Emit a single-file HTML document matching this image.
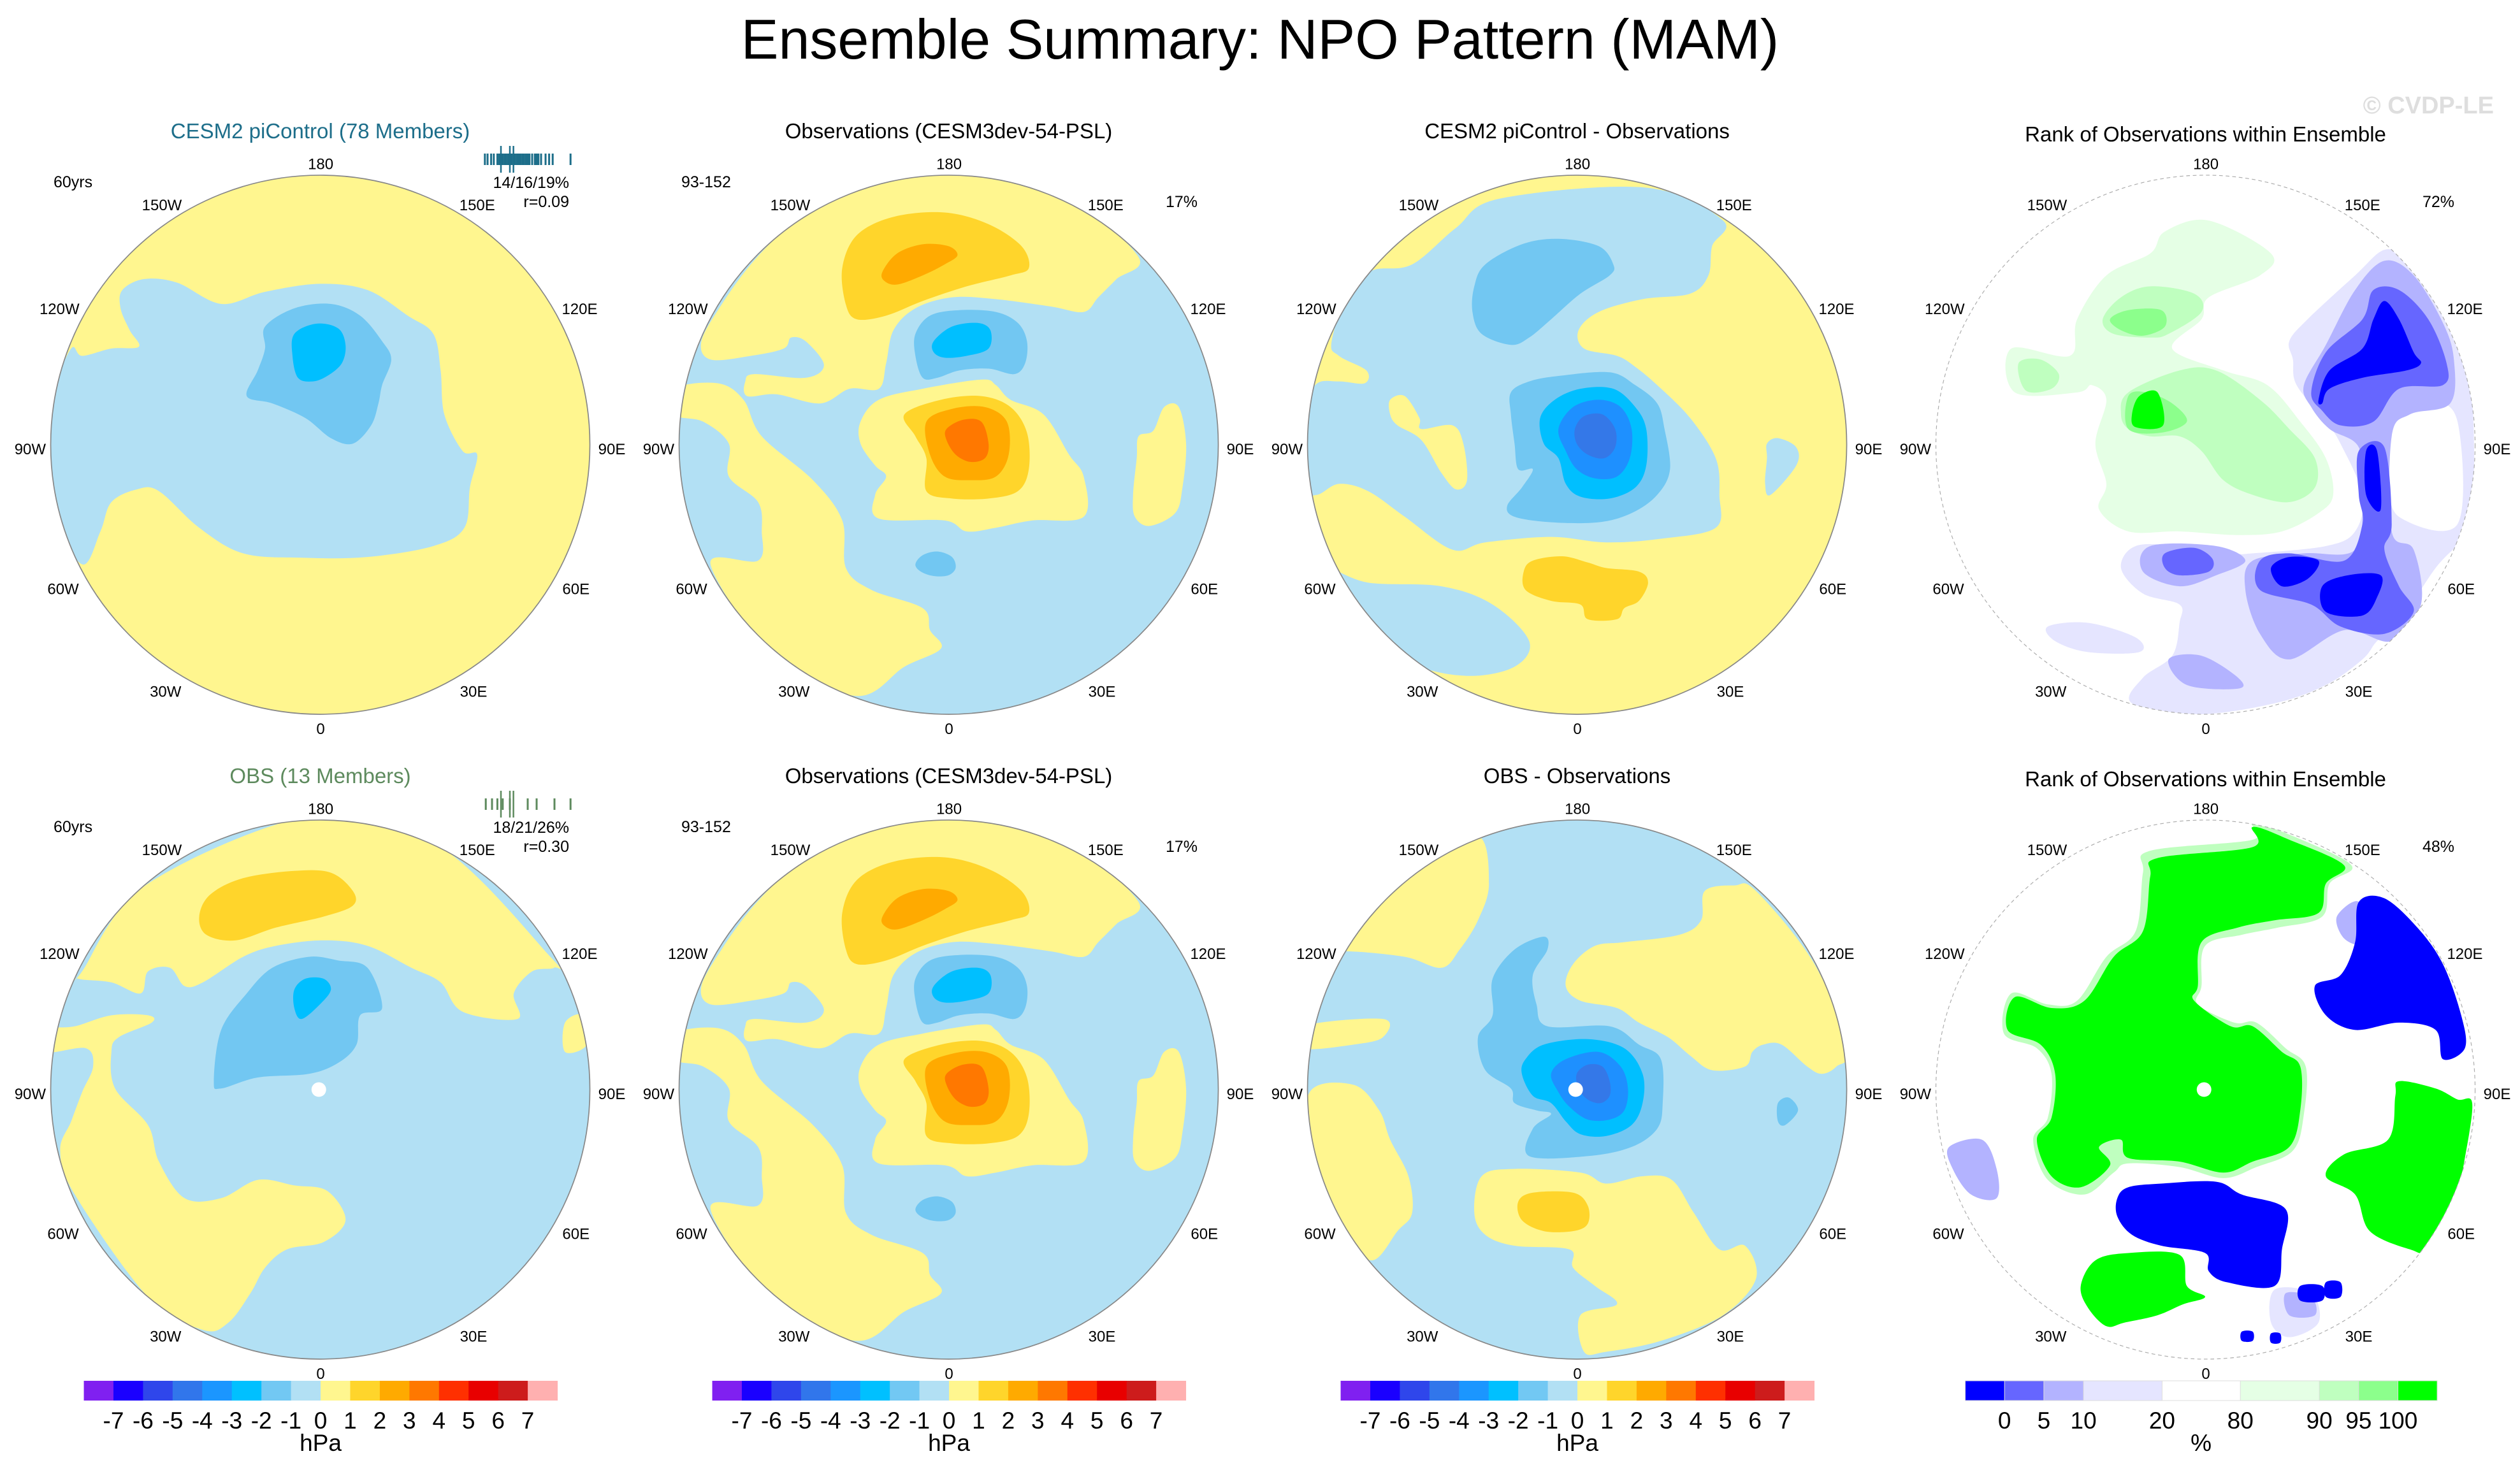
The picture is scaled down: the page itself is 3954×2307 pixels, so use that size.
<!DOCTYPE html>
<html><head><meta charset="utf-8">
<style>
html,body{margin:0;padding:0;background:#fff;}
body{width:3954px;height:2302px;overflow:hidden;font-family:"Liberation Sans",Arial,sans-serif;}
svg text{font-family:"Liberation Sans",Arial,sans-serif;}
</style></head>
<body>
<svg id="fig" xmlns="http://www.w3.org/2000/svg" width="3954" height="2302" viewBox="0 0 3954 2302">
<rect width="3954" height="2302" fill="#fff"/>
<text x="1977" y="92" font-size="88" text-anchor="middle" fill="#000">Ensemble Summary: NPO Pattern (MAM)</text>
<text x="3913" y="178" font-size="38" font-weight="bold" text-anchor="end" fill="#dedede">© CVDP-LE</text>
<g id="panels"></g>
</svg>
<script>
// colour scales
const hpaLevels = ["-7","-6","-5","-4","-3","-2","-1","0","1","2","3","4","5","6","7"];
const hpaColors = ["#8020f0","#1a00ff","#2f46eb","#3176eb","#1b96ff","#00c0ff","#72c8f3","#b2e0f4","#fff68f","#ffd52b","#ffaa00","#ff7800","#ff3000","#e80000","#cd1c1c","#ffb0b0"];
const rankLevels = ["0","5","10","20","80","90","95","100"];
const rankColors = ["#0000ff","#6666ff","#b3b3ff","#e5e5ff","#ffffff","#e5ffe5","#bfffbf","#8cff8c","#00ff00"];
const rankWidths = [107,107,108,214,213,215,107,107,106];

const Y0="#fff68f",Y1="#ffd52b",Y2="#ffaa00",Y3="#ff7800",B0="#b2e0f4",B1="#72c7f2",B2="#00bfff",B3="#1e90ff",B4="#3478e8";
const R0="#0000ff",R1="#6666ff",R2="#b3b3ff",R3="#e5e5ff",G1="#e5ffe5",G2="#bfffbf",G3="#8cff8c",G4="#00ff00";

const shapesP1 = [
 [B0,[230,340,290,310,380,320,500,378,620,345,770,323,900,340,1010,410,1080,460,1100,560,1110,680,1160,780,1200,790,1180,880,1165,990,1080,1040,900,1070,720,1072,560,1060,440,990,330,890,270,885,200,920,170,1000,120,1090,40,950,20,760,40,620,90,500,120,520,200,500,275,495,250,450,225,390]],
 [B1,[620,440,700,390,800,378,880,410,940,480,965,530,940,600,930,650,910,710,860,760,800,745,730,690,640,650,570,630,600,560,620,500]],
 [B2,[700,460,760,432,820,445,840,490,830,540,790,575,750,590,710,580,695,520]]
];
const shapesP2 = [
 [Y0,[320,180,450,90,770,10,1100,100,1290,250,1230,310,1180,360,1140,400,1050,385,900,365,780,360,680,390,620,450,600,540,580,610,500,610,420,650,300,625,220,630,215,590,240,570,380,580,430,545,380,480,340,470,320,500,230,520,120,530,95,480,150,380,230,270]],
 [Y0,[20,610,140,595,210,640,260,740,400,860,480,970,490,1100,560,1160,700,1210,720,1270,750,1320,650,1370,520,1450,300,1350,120,1090,250,1080,260,1000,250,920,170,850,170,760,100,700,20,680]],
 [Y0,[530,700,580,640,700,610,860,585,900,600,940,640,1030,680,1100,790,1140,850,1140,960,1000,970,900,990,820,1000,760,970,580,965,570,900,600,850,570,820,530,760]],
 [Y1,[650,680,750,640,860,630,940,660,985,730,990,830,960,890,880,910,780,910,710,890,710,800,680,740]],
 [Y2,[710,700,780,665,870,660,930,700,935,790,900,850,830,860,760,850,720,790]],
 [Y3,[765,720,810,695,860,700,880,760,870,800,830,810,790,790,765,750]],
 [Y1,[480,280,520,190,620,140,760,128,880,160,970,220,990,280,940,300,820,330,700,370,600,410,520,420,490,380]],
 [Y2,[590,290,630,240,700,215,770,220,795,245,760,270,700,300,630,325,595,315]],
 [B1,[680,460,720,410,800,395,900,400,960,430,985,480,980,540,950,570,880,555,800,560,740,580,700,580,680,520]],
 [B2,[730,480,780,440,850,430,885,450,880,500,820,520,760,525,730,510]],
 [B1,[680,1090,700,1065,740,1055,780,1070,790,1100,770,1120,730,1122,695,1110]],
 [Y0,[1290,740,1330,725,1360,660,1400,660,1420,760,1410,880,1390,950,1320,985,1280,960,1275,900,1285,800]]
];
const shapesP3 = [
 [B0,[100,480,150,330,215,285,320,270,440,170,560,90,960,60,1170,150,1140,220,1130,300,1080,350,950,365,830,400,775,450,790,500,880,520,930,550,990,600,1080,690,1150,800,1160,900,1150,990,1000,1020,850,1030,700,1015,520,1030,430,1050,300,960,200,890,120,870,60,900,20,880,20,700,55,600,120,590,190,595,195,560,120,520]],
 [B0,[90,1100,200,1140,400,1150,540,1200,640,1300,600,1370,470,1395,320,1360,180,1250,100,1150]],
 [Y0,[260,640,300,630,340,690,345,720,430,710,460,760,470,860,440,885,400,840,345,750,280,710,260,680]],
 [B0,[1290,760,1320,745,1370,770,1370,820,1300,900,1285,870,1290,800]],
 [B1,[490,330,520,270,620,215,720,200,830,220,870,270,860,300,780,350,700,420,640,470,590,490,510,460,485,400]],
 [B1,[590,620,640,590,720,575,860,565,930,600,990,650,1010,720,1025,830,990,900,920,950,830,975,700,975,600,960,580,930,620,880,650,830,610,830,600,760,590,680]],
 [B2,[670,690,710,640,780,610,870,610,930,660,960,720,960,820,930,880,860,910,780,905,740,870,720,800,680,760]],
 [B3,[720,720,760,660,830,640,890,660,920,720,915,800,880,850,820,855,770,830,740,780]],
 [B4,[765,720,790,685,840,680,875,720,875,770,845,800,800,790,770,760]],
 [Y1,[625,1110,650,1080,730,1068,800,1085,850,1100,940,1110,965,1140,940,1190,900,1210,880,1240,800,1240,780,1200,700,1190,630,1160]]
];
const shapesP4 = [
 [G1,[420,420,500,300,620,240,660,180,780,150,950,240,920,300,780,360,760,420,680,500,820,560,940,600,1030,700,1100,800,1120,900,1080,950,980,1000,860,1010,700,1000,560,1000,480,940,500,870,470,760,500,640,460,600,420,620,250,620,240,500,400,520]],
 [G2,[490,420,540,360,620,330,740,350,760,400,670,460,620,470,520,460]],
 [G2,[560,620,700,560,800,560,920,640,1000,720,1070,800,1070,880,1000,920,900,900,820,860,760,780,700,740,620,740,560,720,540,680]],
 [G2,[260,540,320,530,370,570,350,610,280,615]],
 [G3,[510,420,560,395,650,395,660,440,600,465,540,450]],
 [G3,[560,630,610,620,680,650,720,700,650,730,560,720]],
 [G4,[590,630,640,620,655,710,580,715,570,680]],
 [R3,[1000,480,1050,420,1180,300,1260,230,1320,260,1420,380,1470,500,1500,640,1505,900,1490,1000,1400,1100,1300,1250,1240,1300,1200,1350,1100,1420,960,1470,750,1500,570,1470,600,1400,680,1340,700,1250,700,1200,600,1170,540,1100,580,1040,700,1040,850,1060,900,1060,1100,1040,1180,1000,1200,900,1140,760,1100,700,1020,600,1010,530]],
 [R3,[340,1260,450,1250,580,1290,590,1330,450,1330,360,1300]],
 ["#ffffff",[1260,640,1380,640,1460,700,1460,980,1300,960,1270,850,1260,760]],
 [R2,[1040,600,1100,490,1180,340,1260,260,1340,300,1420,430,1450,530,1440,650,1330,680,1280,740,1280,1000,1340,1050,1360,1200,1280,1300,1150,1270,1000,1350,920,1280,880,1160,900,1080,1040,1060,1180,1050,1200,900,1190,770,1110,720,1060,660]],
 [R2,[620,1040,800,1040,880,1080,800,1120,700,1150,600,1110]],
 [R2,[670,1350,760,1340,860,1400,860,1430,720,1420]],
 [R1,[1060,620,1100,510,1200,420,1230,340,1300,340,1380,420,1430,540,1420,600,1300,610,1230,700,1140,710,1090,670]],
 [R1,[1190,780,1260,770,1280,980,1260,1050,1300,1150,1340,1220,1260,1280,1140,1260,1060,1200,920,1160,920,1080,1000,1060,1150,1080,1200,980,1190,900]],
 [R1,[660,1060,740,1045,790,1075,780,1110,700,1120,660,1100]],
 [R0,[1080,640,1110,560,1200,500,1230,420,1260,370,1300,420,1340,510,1360,540,1320,560,1200,580,1110,610,1090,650]],
 [R0,[950,1100,1000,1070,1080,1080,1050,1130,980,1150]],
 [R0,[1090,1150,1160,1120,1250,1120,1240,1180,1200,1230,1100,1220]],
 [R0,[1210,780,1240,780,1250,940,1210,900]]
];
const shapesP5 = [
 [Y0,[120,440,300,200,770,10,1100,100,1400,400,1410,430,1350,440,1300,500,1310,570,1160,550,1100,470,1020,430,900,370,780,355,650,370,560,400,450,470,400,480,360,430,300,440,280,500,200,470,110,460]],
 [Y0,[20,600,100,590,200,560,300,560,310,580,220,620,200,660,210,760,300,860,330,960,400,1060,500,1060,600,1010,700,1025,790,1040,840,1120,780,1180,680,1200,620,1250,580,1320,520,1400,450,1420,300,1330,100,1050,60,930,90,850,120,770,150,700,130,650,20,660]],
 [Y0,[1440,580,1490,560,1500,640,1440,660]],
 [Y1,[440,290,470,230,560,185,700,165,800,170,860,220,860,260,780,290,650,320,540,355,460,340]],
 [B1,[480,740,500,600,570,500,640,430,740,400,820,410,900,430,940,540,880,560,870,640,820,690,740,720,600,730,500,760]],
 [B2,[700,490,730,460,780,460,800,490,770,530,720,570,700,540]]
];
const shapesP7 = [
 [Y0,[100,400,200,260,350,150,500,70,530,200,500,300,450,380,400,430,300,400,140,385]],
 [Y0,[740,480,760,420,820,370,900,360,1050,340,1110,300,1120,220,1200,205,1260,220,1420,420,1510,650,1480,700,1440,720,1400,700,1330,640,1280,640,1250,660,1230,700,1140,710,1080,670,1020,620,940,580,880,540,780,520]],
 [Y0,[20,590,240,570,240,620,160,640,20,650]],
 [Y0,[40,770,160,750,230,820,260,900,310,1000,320,1100,280,1150,210,1230,130,1150,40,950]],
 [Y0,[490,1100,510,1000,600,980,780,990,850,1020,950,1000,1030,1010,1090,1100,1160,1200,1230,1190,1260,1280,1170,1380,1000,1450,850,1480,790,1480,780,1380,880,1350,820,1300,760,1250,750,1200,600,1190,520,1160]],
 [Y1,[610,1070,650,1045,760,1045,800,1080,800,1130,760,1150,680,1150,620,1120]],
 [B1,[500,620,540,560,540,460,600,380,680,345,690,380,650,450,660,530,690,590,860,590,940,640,1000,680,1005,800,990,870,920,920,800,945,640,945,650,870,700,830,660,820,600,800,590,760,520,710]],
 [B2,[630,680,680,640,800,625,900,650,950,720,950,800,920,860,850,890,780,885,740,850,700,800,650,780,620,720]],
 [B3,[700,720,740,680,830,660,890,700,910,760,900,820,860,845,800,845,750,810,720,770]],
 [B4,[770,720,800,695,840,700,860,740,860,780,835,800,800,790,775,760]],
 [B1,[1320,800,1350,785,1375,820,1340,860,1320,850]]
];
const shapesP8 = [
 [G2,[420,520,500,400,580,330,600,170,620,110,900,80,900,35,1010,70,1170,150,1110,200,1090,290,970,320,870,340,770,370,760,480,750,530,850,580,910,580,990,650,1045,700,1040,830,1010,930,910,975,820,1005,700,975,560,965,520,990,440,1050,340,1010,300,900,340,840,350,720,310,650,220,610,240,500,340,530]],
 [G4,[440,520,520,400,600,330,620,180,640,130,900,100,900,45,1000,80,1150,150,1100,200,1080,280,960,300,860,320,760,360,750,480,740,520,840,590,900,590,980,660,1030,700,1030,820,1000,920,900,960,820,990,700,960,560,950,540,900,480,920,510,970,430,1030,350,1000,310,900,350,840,360,720,320,640,230,600,250,510,350,540]],
 [G4,[1100,1000,1150,940,1270,900,1290,780,1300,740,1400,760,1460,790,1500,800,1480,950,1450,1080,1380,1200,1330,1200,1220,1150,1180,1050]],
 [G4,[430,1300,470,1230,560,1210,700,1215,720,1300,770,1330,710,1350,640,1380,550,1400,500,1410,450,1360]],
 [R2,[1130,290,1190,250,1200,360,1150,350]],
 [R0,[1070,480,1140,450,1180,360,1190,250,1260,240,1350,320,1420,420,1470,560,1480,650,1420,680,1400,600,1300,580,1180,600,1100,560]],
 [R2,[70,920,160,900,200,980,200,1060,130,1050,80,980]],
 [R3,[960,1310,1060,1320,1080,1400,1000,1440,950,1400]],
 [R2,[990,1320,1060,1330,1070,1380,1000,1380]],
 [R0,[530,1060,560,1030,650,1020,800,1015,870,1050,990,1090,980,1200,960,1300,830,1290,780,1260,770,1210,650,1190,570,1160,530,1110]],
 [R0,[1030,1300,1090,1300,1090,1340,1030,1340]],
 [R0,[1100,1290,1140,1290,1140,1330,1100,1330]],
 [R0,[870,1425,900,1425,900,1450,870,1450]],
 [R0,[950,1430,975,1430,975,1455,950,1455]]
];

const colX = [60,1046,2032,3018];
const rowY = [260,1272];
const SC = 900/1568;

const panelDefs = [
 {c:0,r:0,bg:Y0,shapes:shapesP1,kind:"hpa",title:"CESM2 piControl (78 Members)",tcolor:"#1d6e8a",tl:"60yrs",tr1:"14/16/19%",tr2:"r=0.09",bars:"#1d6e8a",pole:false},
 {c:1,r:0,bg:B0,shapes:shapesP2,kind:"hpa",title:"Observations (CESM3dev-54-PSL)",tcolor:"#000",tl:"93-152",tr2:"17%",pole:false},
 {c:2,r:0,bg:Y0,shapes:shapesP3,kind:"hpa",title:"CESM2 piControl - Observations",tcolor:"#000",pole:false},
 {c:3,r:0,bg:"#ffffff",shapes:shapesP4,kind:"rank",title:"Rank of Observations within Ensemble",tcolor:"#000",tr2:"72%",pole:false},
 {c:0,r:1,bg:B0,shapes:shapesP5,kind:"hpa",title:"OBS (13 Members)",tcolor:"#5d8a5d",tl:"60yrs",tr1:"18/21/26%",tr2:"r=0.30",bars:"#5d8a5d",pole:true},
 {c:1,r:1,bg:B0,shapes:shapesP2,kind:"hpa",title:"Observations (CESM3dev-54-PSL)",tcolor:"#000",tl:"93-152",tr2:"17%",pole:false},
 {c:2,r:1,bg:B0,shapes:shapesP7,kind:"hpa",title:"OBS - Observations",tcolor:"#000",pole:true},
 {c:3,r:1,bg:"#ffffff",shapes:shapesP8,kind:"rank",title:"Rank of Observations within Ensemble",tcolor:"#000",tr2:"48%",pole:true}
];
const lonLabels = [["180",772,-4],["150W",338,108],["150E",1200,108],["120W",58,392],["120E",1480,392],["90W",-22,775],["90E",1568,775],["60W",68,1158],["60E",1470,1158],["30W",348,1438],["30E",1190,1438],["0",772,1540]];
const memberBarsTop = [0.02,0.05,0.09,0.12,0.16,0.18,0.2,0.22,0.24,0.26,0.28,0.3,0.32,0.34,0.36,0.38,0.4,0.42,0.44,0.46,0.48,0.5,0.52,0.55,0.58,0.6,0.62,0.65,0.7,0.74,0.78,0.98];
const memberBarsBot = [0.03,0.1,0.16,0.22,0.3,0.5,0.6,0.8,0.98];

const NS="http://www.w3.org/2000/svg";
function mk(tag,attrs,parent){const e=document.createElementNS(NS,tag);for(const k in attrs)e.setAttribute(k,attrs[k]);if(parent)parent.appendChild(e);return e;}
function smooth(p){
  const pts=[];for(let i=0;i<p.length;i+=2)pts.push([p[i],p[i+1]]);
  const n=pts.length;let d="M"+pts[0][0]+","+pts[0][1];
  for(let i=0;i<n;i++){
    const p0=pts[(i-1+n)%n],p1=pts[i],p2=pts[(i+1)%n],p3=pts[(i+2)%n];
    const c1=[p1[0]+(p2[0]-p0[0])/6,p1[1]+(p2[1]-p0[1])/6];
    const c2=[p2[0]-(p3[0]-p1[0])/6,p2[1]-(p3[1]-p1[1])/6];
    d+="C"+c1[0].toFixed(1)+","+c1[1].toFixed(1)+" "+c2[0].toFixed(1)+","+c2[1].toFixed(1)+" "+p2[0]+","+p2[1];
  }
  return d+"Z";
}
const root=document.getElementById("panels");
panelDefs.forEach((pd,idx)=>{
  const ox=colX[pd.c], oy=rowY[pd.r];
  const cx=ox+771*SC, cy=oy+763*SC;
  const g=mk("g",{},root);
  
  
  const clipId="clip"+idx;
  const defs=mk("defs",{},g);
  const cp=mk("clipPath",{id:clipId},defs);
  mk("circle",{cx:771,cy:763,r:737},cp);
  const map=mk("g",{transform:"translate("+ox+","+oy+") scale("+SC+")"},g);
  const inner=mk("g",{"clip-path":"url(#"+clipId+")"},map);
  const bg=mk("circle",{cx:771,cy:763,r:737,fill:pd.bg},inner);
  
  
  pd.shapes.forEach(s=>{
    const path=mk("path",{d:smooth(s[1]),fill:s[0]},inner);
    
    
  });
  if(pd.pole){
    const pole=mk("circle",{cx:767,cy:763,r:20,fill:"#fff"},inner);
    
    
  }
  const outline=mk("circle",{cx:771,cy:763,r:737,fill:"none",stroke:pd.kind==="rank"?"#aaa":"#888","stroke-width":pd.kind==="rank"?2:3,"stroke-dasharray":pd.kind==="rank"?"10,8":"none"},map);
  
  
  lonLabels.forEach(l=>{
    const t=mk("text",{x:ox+l[1]*SC,y:oy+l[2]*SC+8,"font-size":24,"text-anchor":"middle",fill:"#000"},g);
    t.textContent=l[0];
    
    
  });
  const ty=oy-43+(pd.kind==="rank"?5:0);
  const title=mk("text",{x:cx,y:ty,"font-size":33,"text-anchor":"middle",fill:pd.tcolor},g);
  title.textContent=pd.title;
  
  
  if(pd.tl){
    const t=mk("text",{x:ox+(pd.tl==="60yrs"?24:23),y:oy+34,"font-size":25,fill:"#000"},g);
    t.textContent=pd.tl;
    
    
  }
  if(pd.tr1){
    const t=mk("text",{x:ox+833,y:oy+35,"font-size":25,"text-anchor":"end",fill:"#000"},g);
    t.textContent=pd.tr1;
    
    
  }
  if(pd.tr2){
    const t=mk("text",{x:ox+833,y:oy+65,"font-size":25,"text-anchor":"end",fill:"#000"},g);
    t.textContent=pd.tr2;
    
    
  }
  if(pd.bars){
    const arr=pd.r===0?memberBarsTop:memberBarsBot;
    const bx0=ox+698,bw=140,by=oy-19;
    arr.forEach((v,i)=>{
      const ln=mk("line",{x1:bx0+v*bw,x2:bx0+v*bw,y1:by,y2:by+18,stroke:pd.bars,"stroke-width":3},g);
      
      
    });
    [0.2,0.3,0.34].forEach(v=>{
      const ln=mk("line",{x1:bx0+v*bw,x2:bx0+v*bw,y1:by-12,y2:by+30,stroke:pd.bars,"stroke-width":2.5},g);
      
      
    });
  }
  if(pd.r===1){
    const cb=mk("g",{},g);
    
    
    const y0=2167,h=31;
    if(pd.kind==="hpa"){
      const x0=cx-371,bw=743/16;
      hpaColors.forEach((col,i)=>{
        const r=mk("rect",{x:x0+i*bw,y:y0,width:bw+0.5,height:h,fill:col},cb);
        
        
      });
      hpaLevels.forEach((lab,i)=>{
        const t=mk("text",{x:x0+(i+1)*bw,y:2242,"font-size":37,"text-anchor":"middle",fill:"#000"},cb);
        t.textContent=lab;
        
        
      });
      const u=mk("text",{x:x0+8*bw,y:2277,"font-size":37,"text-anchor":"middle",fill:"#000"},cb);
      u.textContent="hPa";
      
      
    } else {
      let x=cx-377;const bounds=[];
      rankColors.forEach((col,i)=>{
        const r=mk("rect",{x:x,y:y0,width:rankWidths[i]*740/1284+0.5,height:h,fill:col,stroke:"#ddd","stroke-width":1},cb);
        
        
        x+=rankWidths[i]*740/1284;bounds.push(x);
      });
      rankLevels.forEach((lab,i)=>{
        const t=mk("text",{x:bounds[i],y:2242,"font-size":37,"text-anchor":"middle",fill:"#000"},cb);
        t.textContent=lab;
        
        
      });
      const u=mk("text",{x:cx-7,y:2277,"font-size":37,"text-anchor":"middle",fill:"#000"},cb);
      u.textContent="%";
      
      
    }
  }
});
</script>
</body></html>
